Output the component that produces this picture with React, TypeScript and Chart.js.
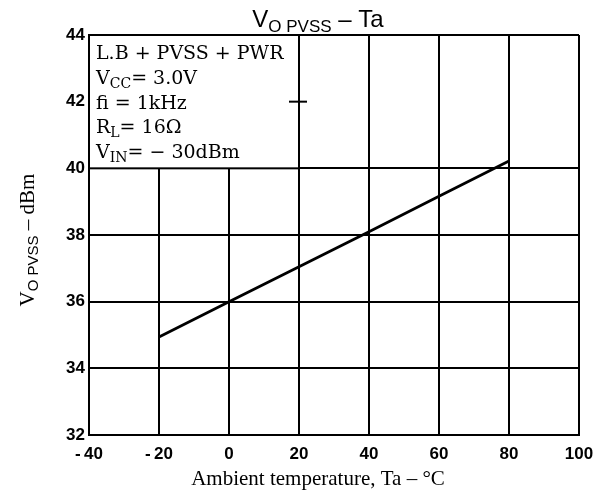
import React, { useEffect, useRef } from "react";
import { Chart, registerables } from "chart.js";

Chart.register(...registerables);

// ---- data ----
const temps = [-20, 0, 20, 40, 60, 80];
const voutDbm = [34.94, 36.0, 37.05, 38.1, 39.16, 40.22];
const xTickValues = [-40, -20, 0, 20, 40, 60, 80, 100];
const yTickValues = [32, 34, 36, 38, 40, 42, 44];
const hiddenGridY = [42];
const titleParts = ["V", "O PVSS", " \u2013 Ta"];
const yTitleParts = ["V", "O PVSS", " \u2013 dBm"];
const xTitle = "Ambient temperature, Ta \u2013 \u00B0C";
// each info line: [main, subscript, rest]
const infoLines: [string, string, string][] = [
  ["L.B + PVSS + PWR", "", ""],
  ["V", "CC", "= 3.0V"],
  ["fi = 1kHz", "", ""],
  ["R", "L", "= 16\u03A9"],
  ["V", "IN", "= \u2212 30dBm"],
];
const boxXMax = 20;
const boxYMin = 40;

type Seg = { t: string; font: string; dy: number };

function segWidth(ctx: CanvasRenderingContext2D, segs: Seg[]) {
  let w = 0;
  for (const s of segs) {
    ctx.font = s.font;
    w += ctx.measureText(s.t).width;
  }
  return w;
}
function drawSegs(ctx: CanvasRenderingContext2D, segs: Seg[], x: number, y: number) {
  let cx = x;
  for (const s of segs) {
    ctx.font = s.font;
    ctx.fillText(s.t, cx, y + s.dy);
    cx += ctx.measureText(s.t).width;
  }
}

const fmtTick = (v: any) => (Number(v) < 0 ? "-\u2009" + Math.abs(Number(v)) : String(v));

const decorPlugin = {
  id: "decor",
  afterDraw(chart: any) {
    const ctx: CanvasRenderingContext2D = chart.ctx;
    const xs = chart.scales.x;
    const ys = chart.scales.y;
    const area = chart.chartArea;
    ctx.save();
    ctx.fillStyle = "#000";
    ctx.textBaseline = "alphabetic";
    ctx.textAlign = "left";

    // info box
    const bx0 = area.left;
    const by0 = area.top;
    const bx1 = xs.getPixelForValue(boxXMax);
    const by1 = ys.getPixelForValue(boxYMin);
    ctx.fillStyle = "#fff";
    ctx.fillRect(bx0, by0, bx1 - bx0, by1 - by0);
    ctx.strokeStyle = "#000";
    ctx.lineWidth = 2;
    ctx.strokeRect(bx0, by0, bx1 - bx0, by1 - by0);
    // small stub of the 42 line at box edge
    const y42 = ys.getPixelForValue(42);
    ctx.beginPath();
    ctx.moveTo(bx1 - 10, y42);
    ctx.lineTo(bx1 + 8, y42);
    ctx.stroke();

    ctx.fillStyle = "#000";
    const mainF = "19px 'DejaVu Serif'";
    const subF = "14px 'DejaVu Serif'";
    infoLines.forEach((ln, i) => {
      const segs: Seg[] = [{ t: ln[0], font: mainF, dy: 0 }];
      if (ln[1]) segs.push({ t: ln[1], font: subF, dy: 4 });
      if (ln[2]) segs.push({ t: ln[2], font: mainF, dy: 0 });
      drawSegs(ctx, segs, bx0 + 7, by0 + 24 + i * 24.8);
    });

    // title
    const tSegs: Seg[] = [
      { t: titleParts[0], font: "24px 'Liberation Sans'", dy: 0 },
      { t: titleParts[1], font: "17px 'Liberation Sans'", dy: 5 },
      { t: titleParts[2], font: "24px 'Liberation Sans'", dy: 0 },
    ];
    const tw = segWidth(ctx, tSegs);
    drawSegs(ctx, tSegs, 318 - tw / 2, 27);

    // x title
    ctx.font = "21px 'Liberation Serif'";
    ctx.textAlign = "center";
    ctx.fillText(xTitle, 318, 485);
    ctx.textAlign = "left";

    // y title (rotated)
    const ySegs: Seg[] = [
      { t: yTitleParts[0], font: "21px 'Liberation Serif'", dy: 0 },
      { t: yTitleParts[1], font: "15px 'Liberation Sans'", dy: 4 },
      { t: yTitleParts[2], font: "21px 'Liberation Serif'", dy: 0 },
    ];
    const yw = segWidth(ctx, ySegs);
    ctx.translate(34, (area.top + area.bottom) / 2 + 5);
    ctx.rotate(-Math.PI / 2);
    drawSegs(ctx, ySegs, -yw / 2, 0);
    ctx.restore();
  },
};

export default function App() {
  const ref = useRef<HTMLCanvasElement | null>(null);
  useEffect(() => {
    if (!ref.current) return;
    const chart = new Chart(ref.current, {
      type: "line",
      data: {
        datasets: [
          {
            data: temps.map((t, i) => ({ x: t, y: voutDbm[i] })),
            borderColor: "#000",
            borderWidth: 2.8,
            pointRadius: 0,
            tension: 0,
          },
        ],
      },
      options: {
        animation: false,
        responsive: false,
        events: [],
        layout: { padding: { top: 35, right: 25, left: 0, bottom: 0 } },
        plugins: { legend: { display: false }, tooltip: { enabled: false }, title: { display: false } },
        scales: {
          x: {
            type: "linear",
            min: xTickValues[0],
            max: xTickValues[xTickValues.length - 1],
            afterBuildTicks: (s: any) => {
              s.ticks = xTickValues.map((v) => ({ value: v }));
            },
            afterFit: (s: any) => {
              s.height = 55;
            },
            grid: { color: "#000", lineWidth: 2, drawTicks: false },
            border: { color: "#000", width: 2 },
            ticks: {
              color: "#000",
              padding: 9,
              maxRotation: 0,
              autoSkip: false,
              font: { family: "'Liberation Sans'", size: 17, weight: "bold" },
              callback: fmtTick,
            },
          },
          y: {
            type: "linear",
            min: yTickValues[0],
            max: yTickValues[yTickValues.length - 1],
            afterBuildTicks: (s: any) => {
              s.ticks = yTickValues.map((v) => ({ value: v }));
            },
            afterFit: (s: any) => {
              s.width = 89;
            },
            grid: {
              color: (c: any) => (c.tick && hiddenGridY.includes(c.tick.value) ? "rgba(0,0,0,0)" : "#000"),
              lineWidth: 2,
              drawTicks: false,
            },
            border: { color: "#000", width: 2 },
            ticks: {
              color: "#000",
              padding: 4,
              autoSkip: false,
              font: { family: "'Liberation Sans'", size: 17, weight: "bold" },
              callback: fmtTick,
            },
          },
        },
      },
      plugins: [decorPlugin],
    } as any);
    return () => chart.destroy();
  }, []);
  return (
    <div style={{ position: "absolute", left: 0, top: 0 }}>
      <canvas ref={ref} width={604} height={490} style={{ width: 604, height: 490 }} />
    </div>
  );
}
